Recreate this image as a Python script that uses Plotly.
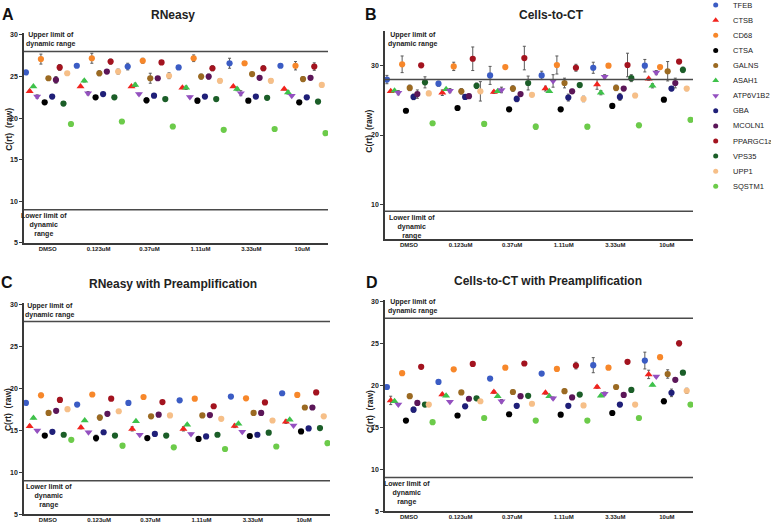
import plotly.graph_objects as go

W, H = 771, 527

GENES = ["TFEB", "CTSB", "CD68", "CTSA", "GALNS", "ASAH1", "ATP6V1B2", "GBA",
         "MCOLN1", "PPARGC1a", "VPS35", "UPP1", "SQSTM1"]
DOSES = ["DMSO", "0.123uM", "0.37uM", "1.11uM", "3.33uM", "10uM"]
COLORS = ["#3b5cc4", "#f2231d", "#f7872a", "#000000", "#9b6a22", "#3ec24a", "#9450c0",
          "#1f1f78", "#5b1658", "#a3131f", "#1b5e28", "#f6bf88", "#6ccb4a"]
SYMBOLS = ["circle", "triangle-up", "circle", "circle", "circle", "triangle-up",
           "triangle-down", "circle", "circle", "circle", "circle", "circle", "circle"]
# position of each gene inside a dose group
SLOT = [0, 1, 4, 5, 6, 2, 3, 7, 8, 9, 10, 11, 12]
GROUP_STEP = 13.55

# ---- Panel A: RNeasy (mean C(rt) per gene, per dose) ----
RNEASY_CT = [
    [25.5, 26.3, 26.2, 26.1, 26.6, 26.3],
    [23.25, 23.8, 23.8, 23.65, 23.8, 23.5],
    [27.1, 27.2, 26.9, 27.2, 26.6, 26.3],
    [21.9, 22.5, 22.15, 22.1, 22.1, 21.9],
    [24.8, 25.4, 24.8, 25.0, 25.3, 24.7],
    [23.8, 24.5, 24.0, 23.65, 23.5, 23.1],
    [22.6, 23.0, 22.9, 22.55, 23.0, 22.7],
    [22.6, 22.9, 22.7, 22.6, 22.6, 22.5],
    [24.6, 25.6, 24.8, 25.0, 24.85, 24.85],
    [26.1, 26.8, 26.7, 26.0, 26.0, 26.2],
    [21.75, 22.5, 22.3, 22.3, 22.45, 22.0],
    [25.4, 25.6, 25.1, 24.5, 24.5, 24.0],
    [19.3, 19.6, 19.0, 18.6, 18.7, 18.2],
]
RNEASY_ERR = [
    [0.1, 0.15, 0.4, 0.2, 0.6, 0.15],
    [0.1, 0.1, 0.1, 0.1, 0.1, 0.1],
    [0.6, 0.6, 0.3, 0.4, 0.2, 0.5],
    [0.15, 0.2, 0.3, 0.3, 0.15, 0.2],
    [0.15, 0.3, 0.6, 0.3, 0.2, 0.3],
    [0.1, 0.15, 0.2, 0.2, 0.2, 0.2],
    [0.2, 0.2, 0.1, 0.1, 0.3, 0.1],
    [0.1, 0.1, 0.1, 0.15, 0.1, 0.1],
    [0.4, 0.15, 0.15, 0.3, 0.15, 0.15],
    [0.35, 0.3, 0.15, 0.3, 0.3, 0.45],
    [0.1, 0.15, 0.15, 0.15, 0.15, 0.25],
    [0.15, 0.3, 0.35, 0.25, 0.25, 0.15],
    [0.2, 0.1, 0.25, 0.15, 0.15, 0.15],
]

# ---- Panel B: Cells-to-CT ----
CELLS_CT = [
    [28.0, 27.4, 28.6, 28.6, 29.7, 30.0],
    [26.3, 26.1, 26.2, 26.7, 27.3, 28.1],
    [30.2, 29.9, 29.8, 30.1, 30.0, 29.8],
    [23.5, 23.9, 23.7, 23.7, 24.2, 25.1],
    [26.8, 26.3, 26.7, 27.5, 26.8, 29.2],
    [26.4, 26.6, 26.3, 26.3, 26.1, 27.1],
    [26.1, 26.4, 26.5, 27.8, 28.4, 29.0],
    [25.5, 25.5, 25.2, 25.4, 25.5, 26.7],
    [25.9, 25.6, 25.9, 26.3, 26.7, 27.5],
    [30.05, 31.0, 31.1, 29.7, 30.1, 30.6],
    [27.6, 27.1, 27.5, 27.2, 28.2, 29.4],
    [26.0, 26.3, 25.8, 25.2, 25.7, 26.7],
    [21.7, 21.6, 21.2, 21.2, 21.4, 22.2],
]
CELLS_ERR = [
    [0.6, 0.35, 1.3, 0.6, 0.8, 0.9],
    [0.1, 0.4, 0.2, 0.35, 0.7, 0.2],
    [1.2, 0.6, 0.2, 1.3, 0.1, 0.1],
    [0.15, 0.15, 0.15, 0.2, 0.1, 0.15],
    [0.4, 0.4, 0.4, 0.7, 0.4, 1.4],
    [0.1, 0.1, 0.1, 0.1, 0.3, 0.3],
    [0.3, 0.3, 0.4, 0.9, 0.3, 0.3],
    [0.4, 0.3, 0.4, 0.5, 0.5, 0.3],
    [0.6, 0.3, 0.2, 0.3, 0.2, 0.7],
    [0.15, 1.7, 1.7, 0.5, 1.7, 0.1],
    [0.8, 0.4, 1.0, 0.3, 0.5, 0.4],
    [0.3, 1.4, 0.15, 0.4, 0.3, 0.3],
    [0.15, 0.2, 0.35, 0.3, 0.3, 0.3],
]

# ---- Panel C: RNeasy with Preamplification ----
RNEASY_PRE_CT = [
    [18.3, 18.1, 18.3, 18.6, 19.05, 19.45],
    [15.5, 15.35, 15.2, 15.2, 15.55, 16.05],
    [19.2, 19.3, 19.0, 18.8, 18.85, 19.25],
    [14.4, 14.1, 14.1, 14.0, 14.35, 14.9],
    [17.1, 16.55, 16.7, 16.8, 17.1, 17.75],
    [16.5, 16.2, 16.1, 15.7, 15.8, 16.3],
    [15.0, 14.8, 14.5, 14.6, 14.85, 15.6],
    [14.85, 14.8, 14.6, 14.3, 14.5, 15.25],
    [17.35, 17.0, 16.9, 16.85, 17.1, 17.75],
    [18.65, 18.8, 18.4, 17.9, 18.35, 19.55],
    [14.5, 14.4, 14.4, 14.5, 14.75, 15.3],
    [17.55, 17.3, 16.8, 16.4, 16.2, 16.7],
    [13.9, 13.2, 13.0, 12.8, 13.1, 13.5],
]
RNEASY_PRE_ERR = [
    [0.1, 0.15, 0.15, 0.1, 0.1, 0.1],
    [0.15, 0.15, 0.25, 0.25, 0.2, 0.2],
    [0.25, 0.1, 0.1, 0.15, 0.1, 0.15],
    [0.2, 0.35, 0.15, 0.15, 0.1, 0.1],
    [0.1, 0.3, 0.2, 0.1, 0.2, 0.1],
    [0.1, 0.1, 0.1, 0.1, 0.1, 0.1],
    [0.1, 0.1, 0.1, 0.1, 0.1, 0.1],
    [0.1, 0.1, 0.1, 0.1, 0.15, 0.15],
    [0.15, 0.25, 0.25, 0.1, 0.25, 0.1],
    [0.3, 0.1, 0.15, 0.2, 0.1, 0.2],
    [0.1, 0.1, 0.1, 0.1, 0.1, 0.1],
    [0.1, 0.1, 0.1, 0.1, 0.1, 0.1],
    [0.1, 0.25, 0.2, 0.1, 0.1, 0.15],
]

# ---- Panel D: Cells-to-CT with Preamplification ----
CELLS_PRE_CT = [
    [19.8, 20.4, 20.8, 21.4, 22.4, 22.95],
    [18.2, 18.9, 19.2, 19.1, 19.8, 21.3],
    [21.45, 21.9, 22.1, 21.95, 22.1, 23.35],
    [15.8, 16.4, 16.55, 16.5, 16.7, 18.1],
    [18.7, 19.15, 19.2, 19.3, 19.8, 21.35],
    [18.1, 18.75, 18.7, 18.7, 18.75, 20.05],
    [17.7, 18.05, 18.1, 18.45, 19.0, 21.05],
    [17.1, 17.5, 17.55, 17.55, 17.7, 19.1],
    [17.9, 18.4, 18.7, 18.55, 18.85, 20.65],
    [22.2, 22.55, 22.6, 22.35, 22.8, 25.0],
    [17.7, 18.45, 18.75, 18.9, 19.45, 21.5],
    [17.7, 18.1, 17.8, 17.6, 17.7, 19.35],
    [15.6, 16.1, 15.8, 15.8, 16.1, 17.7],
]
CELLS_PRE_ERR = [
    [0.1, 0.1, 0.1, 0.15, 0.9, 1.0],
    [0.5, 0.15, 0.15, 0.15, 0.15, 0.5],
    [0.1, 0.1, 0.1, 0.1, 0.15, 0.15],
    [0.15, 0.15, 0.15, 0.1, 0.25, 0.3],
    [0.15, 0.2, 0.25, 0.25, 0.15, 0.5],
    [0.1, 0.1, 0.1, 0.1, 0.1, 0.1],
    [0.1, 0.1, 0.2, 0.15, 0.2, 0.1],
    [0.3, 0.25, 0.25, 0.15, 0.25, 0.45],
    [0.2, 0.2, 0.1, 0.2, 0.1, 0.2],
    [0.15, 0.15, 0.2, 0.4, 0.1, 0.3],
    [0.1, 0.1, 0.1, 0.15, 0.15, 0.2],
    [0.1, 0.1, 0.1, 0.1, 0.1, 0.3],
    [0.2, 0.1, 0.1, 0.15, 0.1, 0.1],
]

UPPER_LIMIT = 28
LOWER_LIMIT = 9

FONT = "Liberation Sans, Arial, sans-serif"


def px(x):
    return x / W


def py(y):
    return 1 - y / H


PANELS = [
    dict(title="RNeasy", letter="A", ct=RNEASY_CT, err=RNEASY_ERR,
         xdom=(24, 328), ydom=(243.3, 31.6), yrange=[5, 30.2], ticks=[5, 10, 15, 20, 25, 30],
         title_xy=(173, 13), letter_xy=(8, 12.5), ytitle_xy=(9, 129),
         up_xy=(51, 37.5), lo_xy=(44, 225.5)),
    dict(title="Cells-to-CT", letter="B", ct=CELLS_CT, err=CELLS_ERR,
         xdom=(385, 693), ydom=(239.3, 29.3), yrange=[5, 35], ticks=[10, 20, 30],
         title_xy=(551, 13), letter_xy=(371, 12.5), ytitle_xy=(369, 131),
         up_xy=(413, 37.5), lo_xy=(412, 227)),
    dict(title="RNeasy with Preamplification", letter="C", ct=RNEASY_PRE_CT, err=RNEASY_PRE_ERR,
         xdom=(24, 330), ydom=(517.3, 304), yrange=[5, 30.2], ticks=[5, 10, 15, 20, 25, 30],
         title_xy=(173, 285), letter_xy=(7, 283.5), ytitle_xy=(8, 412),
         up_xy=(50, 311.5), lo_xy=(49, 499)),
    dict(title="Cells-to-CT with Preamplification", letter="D", ct=CELLS_PRE_CT, err=CELLS_PRE_ERR,
         xdom=(385, 693), ydom=(514, 300.6), yrange=[5, 30.2], ticks=[5, 10, 15, 20, 25, 30],
         title_xy=(548, 282), letter_xy=(372, 283), ytitle_xy=(370, 414),
         up_xy=(413, 307.7), lo_xy=(407, 496)),
]

XRANGE = [-0.5, 80.4]
TICK_OFFSET = 5.8

fig = go.Figure()
annotations = []
shapes = []
layout = dict(
    width=W, height=H, margin=dict(l=0, r=0, t=0, b=0),
    paper_bgcolor="white", plot_bgcolor="rgba(0,0,0,0)", showlegend=False,
    font=dict(family=FONT, color="#222"),
)

bold = dict(family=FONT, weight=700, color="#222")

for p_i, p in enumerate(PANELS):
    n = "" if p_i == 0 else str(p_i + 1)
    xa, ya = "x" + n, "y" + n
    for g_i, gene in enumerate(GENES):
        xs = [d * GROUP_STEP + SLOT[g_i] for d in range(len(DOSES))]
        fig.add_trace(go.Scatter(
            x=xs, y=p["ct"][g_i], mode="markers", name=gene,
            xaxis=xa, yaxis=ya,
            marker=dict(color=COLORS[g_i], symbol=SYMBOLS[g_i],
                        size=7 if "triangle" in SYMBOLS[g_i] else 6.2, line=dict(width=0)),
            error_y=dict(type="data", array=p["err"][g_i], visible=True,
                         color="#5a5a5a", thickness=1, width=1.5),
            hoverinfo="skip",
        ))
    layout["xaxis" + n] = dict(
        domain=[px(p["xdom"][0]), px(p["xdom"][1])], anchor=ya, range=XRANGE,
        tickvals=[d * GROUP_STEP + TICK_OFFSET for d in range(len(DOSES))],
        ticktext=DOSES, tickfont=dict(size=6, **bold), ticks="",
        ticklabelstandoff=-1,
        showline=True, linecolor="#3a3a3a", linewidth=1.5,
        showgrid=False, zeroline=False, fixedrange=True,
    )
    layout["yaxis" + n] = dict(
        domain=[py(p["ydom"][0]), py(p["ydom"][1])], anchor=xa, range=p["yrange"],
        tickvals=p["ticks"], tickfont=dict(size=7, **bold),
        ticks="outside", ticklen=3, tickwidth=1.2, tickcolor="#3a3a3a",
        showline=True, linecolor="#3a3a3a", linewidth=1.5,
        showgrid=False, zeroline=False, fixedrange=True,
    )
    for lim in (UPPER_LIMIT, LOWER_LIMIT):
        shapes.append(dict(type="line", xref=xa, yref=ya, x0=XRANGE[0], x1=XRANGE[1],
                           y0=lim, y1=lim, line=dict(color="#4a4a4a", width=1.5)))
    annotations += [
        dict(text=p["title"], x=px(p["title_xy"][0]), y=py(p["title_xy"][1]),
             xref="paper", yref="paper", showarrow=False, xanchor="center", yanchor="middle",
             font=dict(size=12, **bold)),
        dict(text=p["letter"], x=px(p["letter_xy"][0]), y=py(p["letter_xy"][1]),
             xref="paper", yref="paper", showarrow=False, xanchor="center", yanchor="middle",
             font=dict(size=16, family=FONT, weight=700, color="#111")),
        dict(text="C(rt)  (raw)", x=px(p["ytitle_xy"][0]), y=py(p["ytitle_xy"][1]),
             xref="paper", yref="paper", showarrow=False, textangle=-90,
             xanchor="center", yanchor="middle", font=dict(size=8.5, **bold)),
        dict(text="Upper limit of<br>dynamic range", x=px(p["up_xy"][0]), y=py(p["up_xy"][1]),
             xref="paper", yref="paper", showarrow=False, xanchor="center", yanchor="middle",
             align="center", font=dict(size=7, **bold)),
        dict(text="Lower limit of<br>dynamic<br>range", x=px(p["lo_xy"][0]), y=py(p["lo_xy"][1]),
             xref="paper", yref="paper", showarrow=False, xanchor="center", yanchor="middle",
             align="center", font=dict(size=7, **bold)),
    ]

# ---- manual legend (compact rows) ----
LEG_MARK_X, LEG_TEXT_X, LEG_Y0, LEG_DY = 715.7, 730.5, 3.1, 15.25
for g_i, gene in enumerate(GENES):
    yy = LEG_Y0 + LEG_DY * g_i
    fig.add_trace(go.Scatter(
        x=[LEG_MARK_X], y=[yy], mode="markers", xaxis="x5", yaxis="y5",
        marker=dict(color=COLORS[g_i], symbol=SYMBOLS[g_i],
                    size=6 if "triangle" in SYMBOLS[g_i] else 5, line=dict(width=0)),
        hoverinfo="skip", showlegend=False,
    ))
    annotations.append(dict(text=gene, x=LEG_TEXT_X, y=yy, xref="x5", yref="y5",
                            showarrow=False, xanchor="left", yanchor="middle",
                            font=dict(size=7.5, family=FONT, color="#222")))

layout["xaxis5"] = dict(domain=[0, 1], range=[0, W], visible=False, anchor="y5", fixedrange=True)
layout["yaxis5"] = dict(domain=[0, 1], range=[H, 0], visible=False, anchor="x5", fixedrange=True)
layout["annotations"] = annotations
layout["shapes"] = shapes

fig.update_layout(**layout)
fig.write_html("out.html", config={"displayModeBar": False},
               post_script="document.body.style.margin='0px';")
